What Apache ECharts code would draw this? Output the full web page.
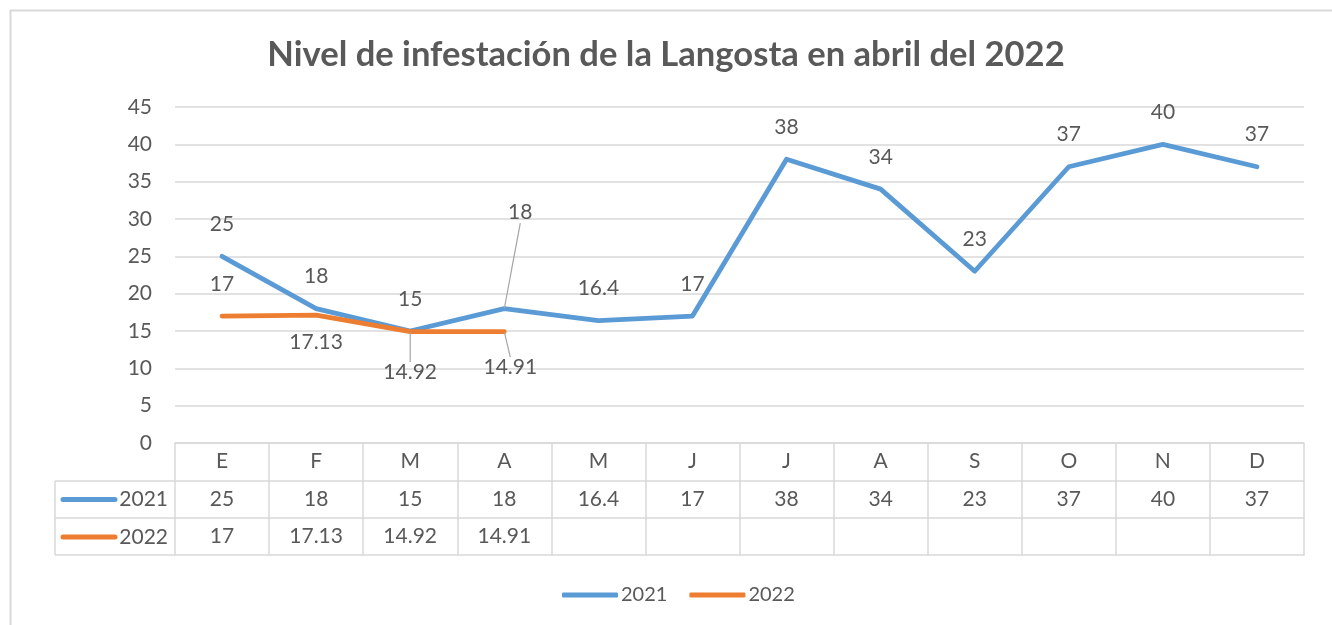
<!DOCTYPE html>
<html>
<head>
<meta charset="utf-8">
<script src="https://cdn.jsdelivr.net/npm/echarts@6/dist/echarts.min.js"></script>
<style>
html,body{margin:0;padding:0;background:#fff;}
#chart{width:1332px;height:625px;}
</style>
</head>
<body>
<div id="chart"></div>
<script>
var titleText = 'Nivel de infestación de la Langosta en abril del 2022';
var months = ['E','F','M','A','M','J','J','A','S','O','N','D'];
var seriesNames = ['2021','2022'];
var values2021 = [25, 18, 15, 18, 16.4, 17, 38, 34, 23, 37, 40, 37];
var values2022 = [17, 17.13, 14.92, 14.91, null, null, null, null, null, null, null, null];
var yTicks = [0, 5, 10, 15, 20, 25, 30, 35, 40, 45];

var TXT = '#595959';
var GRIDC = '#d9d9d9';
var BLUE = '#5b9bd5';
var ORANGE = '#ed7d31';
var FONT = 'Lato, "Open Sans", sans-serif';
var FS = 21;

var chart = echarts.init(document.getElementById('chart'), null, {renderer: 'canvas'});

function fmtTable(arr) {
  return function (v, i) { var x = arr[i]; return (x === null || x === undefined) ? '' : String(x); };
}

// label placement for individual points (styling in code, not in data)
var layout2021 = {3: {dx: 16, dy: -64, line: true}};
var layout2022 = {
  1: {pos: 'bottom', dist: 16, dx: 0, dy: 0},
  2: {pos: 'bottom', dist: 5, dx: 0, dy: 25, line: true},
  3: {pos: 'bottom', dist: 5, dx: 6, dy: 20, line: true}
};

function buildData(arr, layout) {
  return arr.map(function (v, i) {
    var o = {value: v};
    var l = layout[i];
    if (l) {
      if (l.pos) o.label = {position: l.pos, distance: l.dist};
      if (l.line) o.labelLine = {show: true};
    }
    return o;
  });
}

var option = {
  animation: false,
  textStyle: {fontFamily: FONT},
  title: {
    text: titleText,
    left: 'center',
    top: 32,
    textStyle: {fontFamily: FONT, fontSize: 34.6, fontWeight: 'bold', color: TXT}
  },
  legend: {
    data: seriesNames,
    left: 557,
    top: 580,
    icon: 'roundRect',
    itemWidth: 56,
    itemHeight: 5,
    itemGap: 22,
    textStyle: {fontFamily: FONT, fontSize: 20, color: TXT, padding: [0, 0, 0, -2]}
  },
  grid: {left: 175, right: 28, top: 107, bottom: 182},
  xAxis: [
    {
      type: 'category', data: months, boundaryGap: true,
      axisLine: {show: true, lineStyle: {color: GRIDC, width: 1.5}},
      axisTick: {show: true, interval: 0, length: 112, lineStyle: {color: GRIDC, width: 1.5}},
      axisLabel: {interval: 0, margin: 8, color: TXT, fontSize: FS, fontFamily: FONT}
    },
    {
      type: 'category', data: months, position: 'bottom', offset: 38,
      axisLine: {show: true, lineStyle: {color: GRIDC, width: 1.5}},
      axisTick: {show: false},
      axisLabel: {interval: 0, margin: 8, color: TXT, fontSize: FS, fontFamily: FONT, formatter: fmtTable(values2021)}
    },
    {
      type: 'category', data: months, position: 'bottom', offset: 75,
      axisLine: {show: true, lineStyle: {color: GRIDC, width: 1.5}},
      axisTick: {show: false},
      axisLabel: {interval: 0, margin: 8, color: TXT, fontSize: FS, fontFamily: FONT, formatter: fmtTable(values2022)}
    },
    {
      type: 'category', data: months, position: 'bottom', offset: 112,
      axisLine: {show: true, lineStyle: {color: GRIDC, width: 1.5}},
      axisTick: {show: false},
      axisLabel: {show: false}
    }
  ],
  yAxis: {
    type: 'value', min: yTicks[0], max: yTicks[yTicks.length - 1], interval: yTicks[1] - yTicks[0],
    axisLine: {show: false}, axisTick: {show: false},
    axisLabel: {margin: 23, color: TXT, fontSize: FS, fontFamily: FONT},
    splitLine: {lineStyle: {color: GRIDC, width: 1.5}}
  },
  series: [
    {
      name: seriesNames[0], type: 'line', xAxisIndex: 0,
      data: buildData(values2021, layout2021),
      symbol: 'circle', symbolSize: 1, showSymbol: true,
      lineStyle: {color: BLUE, width: 4.8, cap: 'round', join: 'round'},
      itemStyle: {color: BLUE},
      label: {show: true, position: 'top', distance: 21, color: TXT, fontSize: FS, fontFamily: FONT},
      labelLine: {show: false, lineStyle: {color: '#a6a6a6', width: 1.2}},
      labelLayout: function (p) {
        var l = layout2021[p.dataIndex];
        return l ? {dx: l.dx, dy: l.dy} : {};
      },
      z: 2
    },
    {
      name: seriesNames[1], type: 'line', xAxisIndex: 0,
      data: buildData(values2022, layout2022),
      symbol: 'circle', symbolSize: 1, showSymbol: true,
      lineStyle: {color: ORANGE, width: 4.8, cap: 'round', join: 'round'},
      itemStyle: {color: ORANGE},
      label: {show: true, position: 'top', distance: 21, color: TXT, fontSize: FS, fontFamily: FONT},
      labelLine: {show: false, lineStyle: {color: '#a6a6a6', width: 1.2}},
      labelLayout: function (p) {
        var l = layout2022[p.dataIndex];
        return l ? {dx: l.dx, dy: l.dy} : {};
      },
      z: 3
    }
  ],
  graphic: [
    {type: 'rect', left: 8, top: 8, shape: {width: 1400, height: 700}, style: {fill: 'none', stroke: GRIDC, lineWidth: 2}, silent: true},
    {type: 'line', shape: {x1: 55, y1: 481, x2: 175, y2: 481}, style: {stroke: GRIDC, lineWidth: 1.5}},
    {type: 'line', shape: {x1: 55, y1: 518, x2: 175, y2: 518}, style: {stroke: GRIDC, lineWidth: 1.5}},
    {type: 'line', shape: {x1: 55, y1: 555, x2: 175, y2: 555}, style: {stroke: GRIDC, lineWidth: 1.5}},
    {type: 'line', shape: {x1: 55, y1: 481, x2: 55, y2: 555}, style: {stroke: GRIDC, lineWidth: 1.5}},
    {type: 'line', shape: {x1: 63, y1: 499.5, x2: 115, y2: 499.5}, style: {stroke: BLUE, lineWidth: 5, lineCap: 'round'}},
    {type: 'line', shape: {x1: 63, y1: 537, x2: 115, y2: 537}, style: {stroke: ORANGE, lineWidth: 5, lineCap: 'round'}},
    {type: 'text', style: {text: seriesNames[0], x: 168, y: 499.5, align: 'right', verticalAlign: 'middle', fill: TXT, font: FS + 'px ' + FONT}},
    {type: 'text', style: {text: seriesNames[1], x: 168, y: 537, align: 'right', verticalAlign: 'middle', fill: TXT, font: FS + 'px ' + FONT}}
  ]
};
chart.setOption(option);
</script>
</body>
</html>
